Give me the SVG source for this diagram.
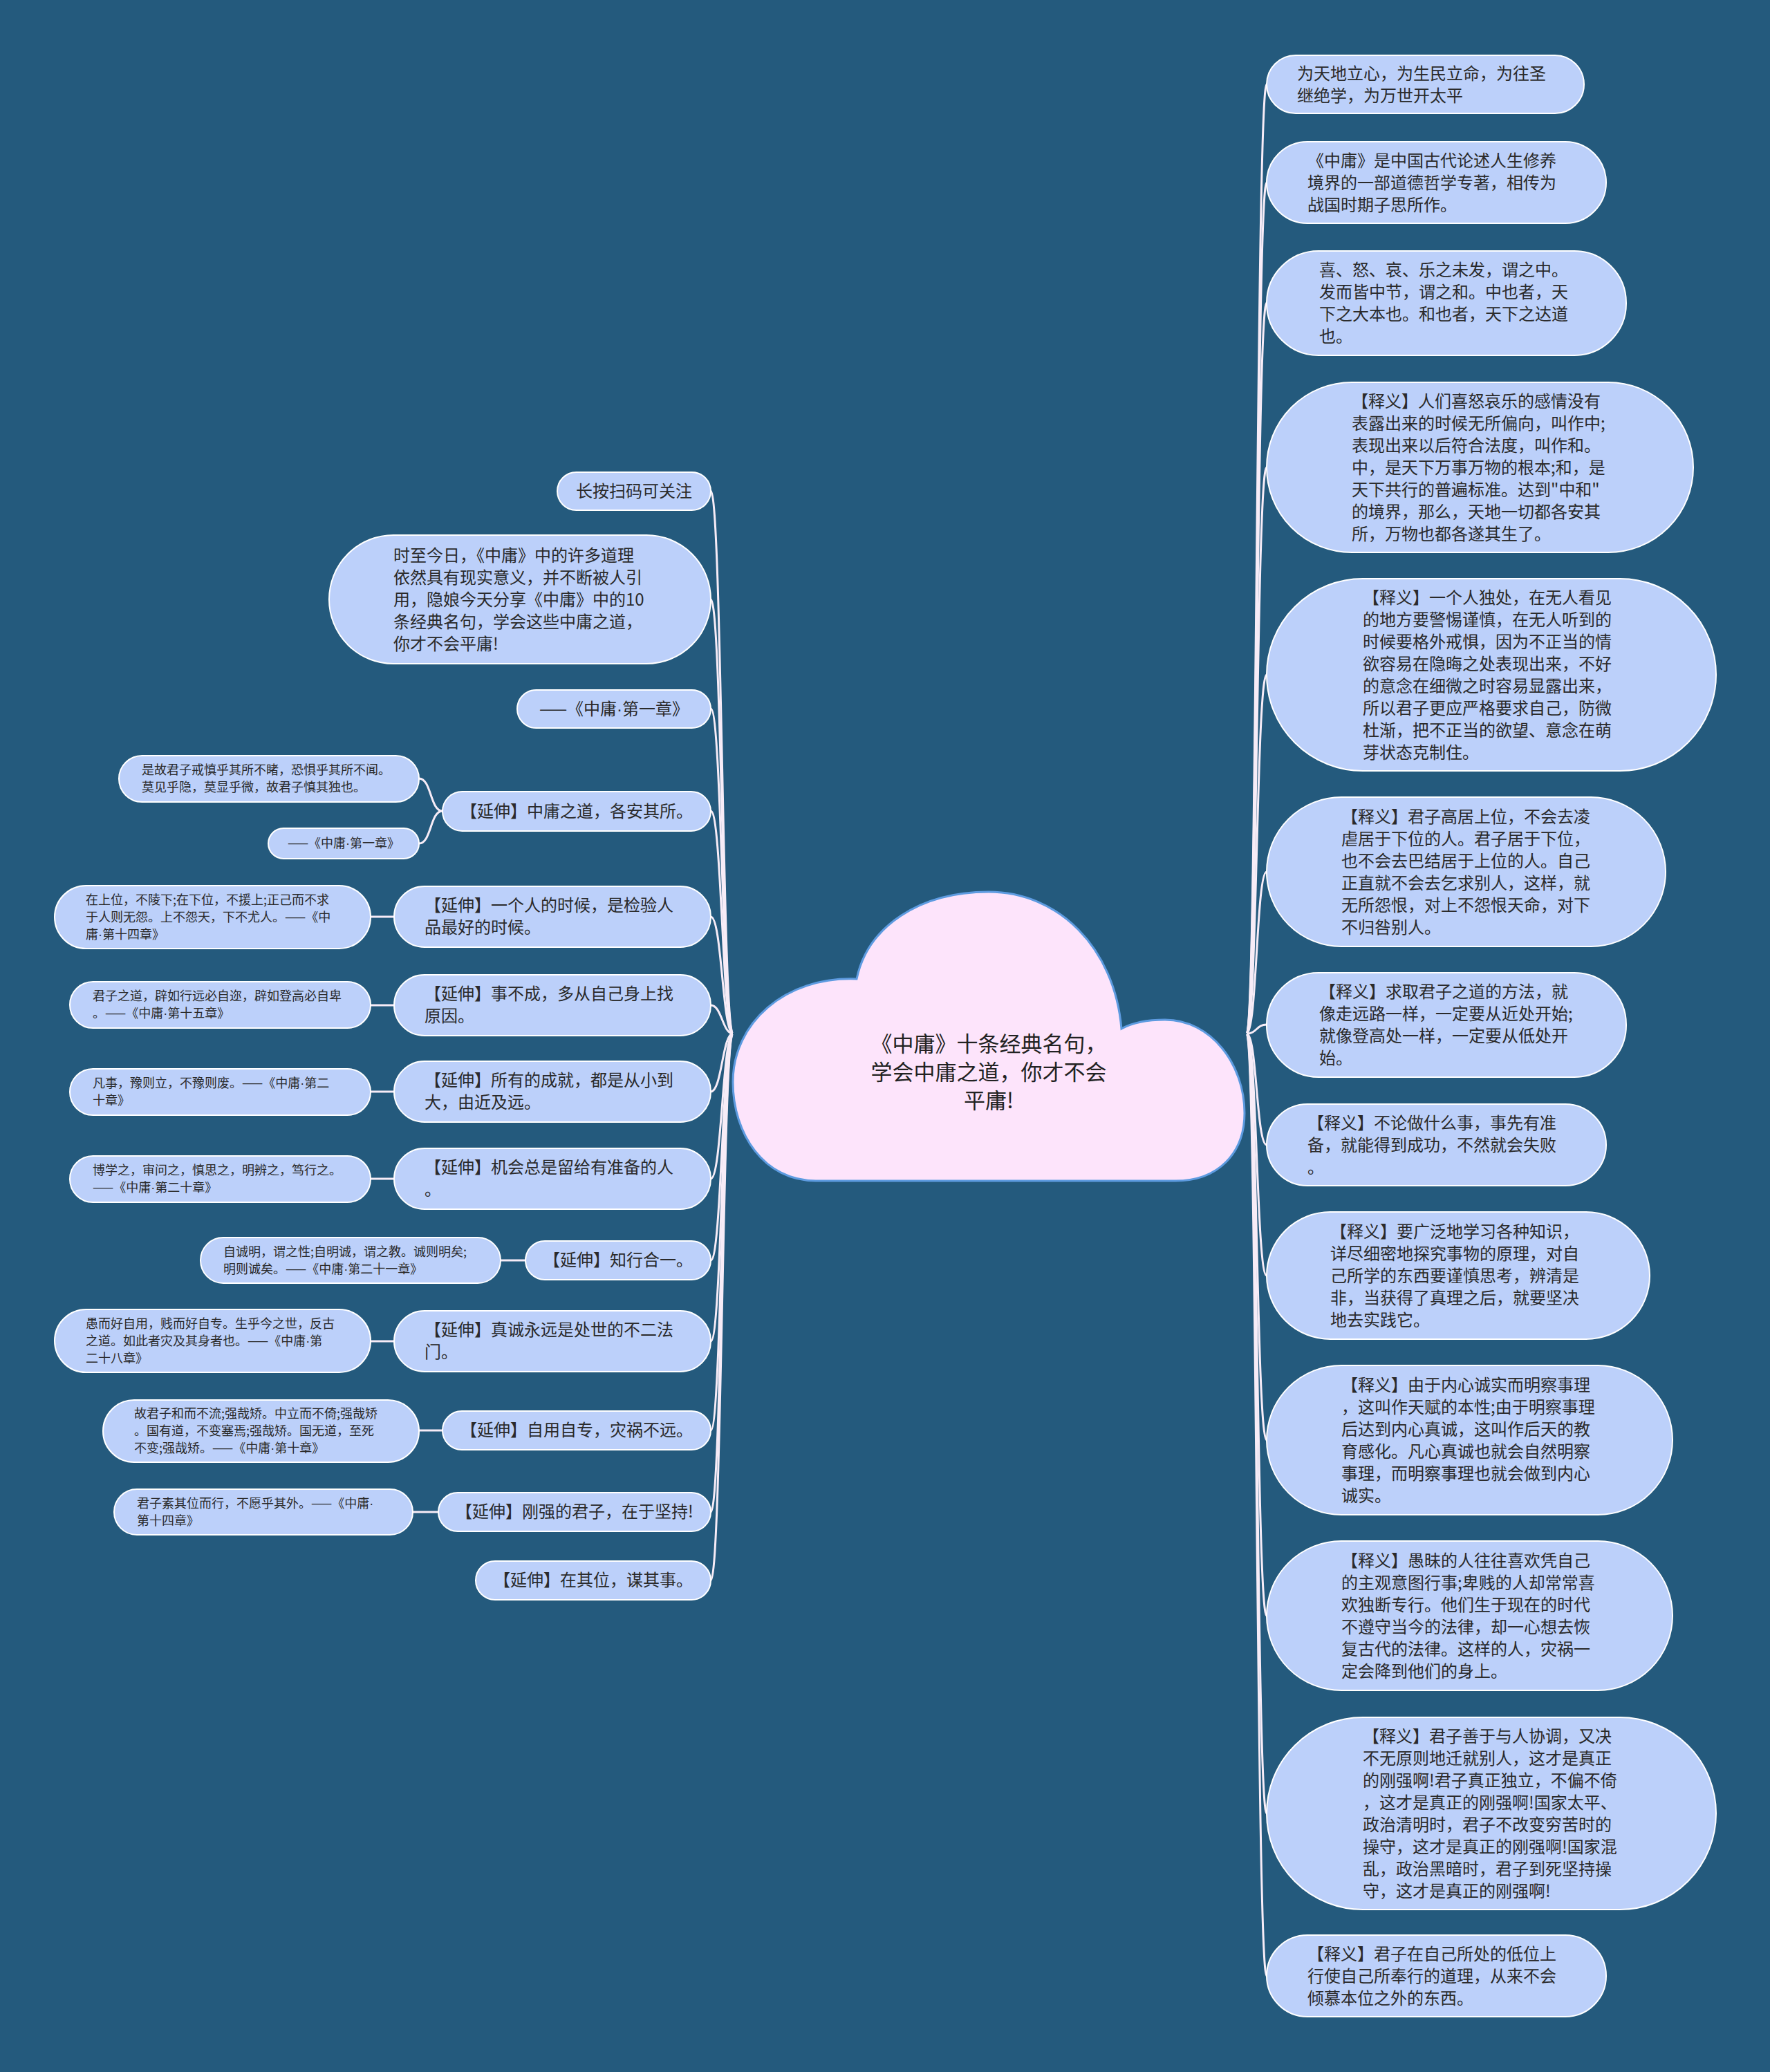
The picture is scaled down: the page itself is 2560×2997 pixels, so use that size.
<svg xmlns="http://www.w3.org/2000/svg" width="2560" height="2997" viewBox="0 0 2560 2997">
<style>
.bg{fill:#245a7d}
.n{fill:#bcd0fa;stroke:#ffffff;stroke-width:2}
.t{font-family:"Noto Sans CJK SC","Noto Sans",sans-serif;font-size:24px;fill:#2a2a2a}
.s{font-family:"Noto Sans CJK SC","Noto Sans",sans-serif;font-size:18px;fill:#2a2a2a}
.d{font-family:"Liberation Sans",sans-serif}
.c{fill:none;stroke:#f7ecf7;stroke-width:3}
.m{text-anchor:middle}
.cloud{fill:#fde4fb;stroke:#5d9be0;stroke-width:3}
.ct{font-family:"Noto Sans CJK SC","Noto Sans",sans-serif;font-size:31px;fill:#222;text-anchor:middle}
</style>
<rect class="bg" x="0" y="0" width="2560" height="2997"/>
<g id="connectors">
<path class="c" d="M1803 1495 C1818 1495 1817 122 1832 122"/>
<path class="c" d="M1803 1495 C1818 1495 1817 264 1832 264"/>
<path class="c" d="M1803 1495 C1818 1495 1817 438 1832 438"/>
<path class="c" d="M1803 1495 C1818 1495 1817 676 1832 676"/>
<path class="c" d="M1803 1495 C1818 1495 1817 976 1832 976"/>
<path class="c" d="M1803 1495 C1818 1495 1817 1261 1832 1261"/>
<path class="c" d="M1803 1495 C1818 1495 1817 1482 1832 1482"/>
<path class="c" d="M1803 1495 C1818 1495 1817 1656 1832 1656"/>
<path class="c" d="M1803 1495 C1818 1495 1817 1845 1832 1845"/>
<path class="c" d="M1803 1495 C1818 1495 1817 2083 1832 2083"/>
<path class="c" d="M1803 1495 C1818 1495 1817 2337 1832 2337"/>
<path class="c" d="M1803 1495 C1818 1495 1817 2623 1832 2623"/>
<path class="c" d="M1803 1495 C1818 1495 1817 2858 1832 2858"/>
<path class="c" d="M1060 1495 C1045 1495 1044 710 1028 710"/>
<path class="c" d="M1060 1495 C1045 1495 1044 867 1028 867"/>
<path class="c" d="M1060 1495 C1045 1495 1044 1025 1028 1025"/>
<path class="c" d="M1060 1495 C1045 1495 1044 1173 1028 1173"/>
<path class="c" d="M1060 1495 C1045 1495 1044 1326 1028 1326"/>
<path class="c" d="M1060 1495 C1045 1495 1044 1454 1028 1454"/>
<path class="c" d="M1060 1495 C1045 1495 1044 1579 1028 1579"/>
<path class="c" d="M1060 1495 C1045 1495 1044 1705 1028 1705"/>
<path class="c" d="M1060 1495 C1045 1495 1044 1823 1028 1823"/>
<path class="c" d="M1060 1495 C1045 1495 1044 1940 1028 1940"/>
<path class="c" d="M1060 1495 C1045 1495 1044 2069 1028 2069"/>
<path class="c" d="M1060 1495 C1045 1495 1044 2187 1028 2187"/>
<path class="c" d="M1060 1495 C1045 1495 1044 2286 1028 2286"/>
<path class="c" d="M640 1173 C622 1173 624 1126 606 1126"/>
<path class="c" d="M640 1173 C622 1173 624 1220 606 1220"/>
<path class="c" d="M570 1326 L536 1326"/>
<path class="c" d="M570 1454 L536 1454"/>
<path class="c" d="M570 1579 L536 1579"/>
<path class="c" d="M570 1705 L536 1705"/>
<path class="c" d="M760 1823 L724 1823"/>
<path class="c" d="M570 1940 L536 1940"/>
<path class="c" d="M640 2069 L606 2069"/>
<path class="c" d="M634 2187 L597 2187"/>
</g>
<g id="center">
<path class="cloud" d="M1180 1708 C1105 1708 1060 1640 1060 1565 C1060 1480 1135 1412 1239 1416 C1255 1340 1330 1290 1430 1290 C1530 1290 1612 1370 1622 1488 C1640 1478 1660 1475 1685 1475 C1752 1475 1800 1540 1800 1610 C1800 1668 1762 1708 1700 1708 Z"/>
<text class="ct"><tspan x="1430" y="1521">《中庸》十条经典名句，</tspan><tspan x="1430" y="1562">学会中庸之道，你才不会</tspan><tspan x="1430" y="1603">平庸!</tspan></text>
</g>
<g id="r1"><rect class="n" x="1832" y="80" width="459" height="84" rx="42"/><text class="t"><tspan x="1876" y="115">为天地立心，为生民立命，为往圣</tspan><tspan x="1876" y="147">继绝学，为万世开太平</tspan></text></g>
<g id="r2"><rect class="n" x="1832" y="205" width="491" height="118" rx="59"/><text class="t"><tspan x="1891" y="241">《中庸》是中国古代论述人生修养</tspan><tspan x="1891" y="273">境界的一部道德哲学专著，相传为</tspan><tspan x="1891" y="305">战国时期子思所作。</tspan></text></g>
<g id="r3"><rect class="n" x="1832" y="363" width="520" height="151" rx="75"/><text class="t"><tspan x="1908" y="399">喜、怒、哀、乐之未发，谓之中。</tspan><tspan x="1908" y="431">发而皆中节，谓之和。中也者，天</tspan><tspan x="1908" y="463">下之大本也。和也者，天下之达道</tspan><tspan x="1908" y="495">也。</tspan></text></g>
<g id="r4"><rect class="n" x="1832" y="553" width="617" height="246" rx="123"/><text class="t"><tspan x="1955" y="589">【释义】人们喜怒哀乐的感情没有</tspan><tspan x="1955" y="621">表露出来的时候无所偏向，叫作中;</tspan><tspan x="1955" y="653">表现出来以后符合法度，叫作和。</tspan><tspan x="1955" y="685">中，是天下万事万物的根本;和，是</tspan><tspan x="1955" y="717">天下共行的普遍标准。达到"中和"</tspan><tspan x="1955" y="749">的境界，那么，天地一切都各安其</tspan><tspan x="1955" y="781">所，万物也都各遂其生了。</tspan></text></g>
<g id="r5"><rect class="n" x="1832" y="837" width="650" height="278" rx="139"/><text class="t"><tspan x="1971" y="873">【释义】一个人独处，在无人看见</tspan><tspan x="1971" y="905">的地方要警惕谨慎，在无人听到的</tspan><tspan x="1971" y="937">时候要格外戒惧，因为不正当的情</tspan><tspan x="1971" y="969">欲容易在隐晦之处表现出来，不好</tspan><tspan x="1971" y="1001">的意念在细微之时容易显露出来，</tspan><tspan x="1971" y="1033">所以君子更应严格要求自己，防微</tspan><tspan x="1971" y="1065">杜渐，把不正当的欲望、意念在萌</tspan><tspan x="1971" y="1097">芽状态克制住。</tspan></text></g>
<g id="r6"><rect class="n" x="1832" y="1153" width="577" height="216" rx="108"/><text class="t"><tspan x="1940" y="1190">【释义】君子高居上位，不会去凌</tspan><tspan x="1940" y="1222">虐居于下位的人。君子居于下位，</tspan><tspan x="1940" y="1254">也不会去巴结居于上位的人。自己</tspan><tspan x="1940" y="1286">正直就不会去乞求别人，这样，就</tspan><tspan x="1940" y="1318">无所怨恨，对上不怨恨天命，对下</tspan><tspan x="1940" y="1350">不归咎别人。</tspan></text></g>
<g id="r7"><rect class="n" x="1832" y="1407" width="520" height="151" rx="75"/><text class="t"><tspan x="1908" y="1443">【释义】求取君子之道的方法，就</tspan><tspan x="1908" y="1475">像走远路一样，一定要从近处开始;</tspan><tspan x="1908" y="1507">就像登高处一样，一定要从低处开</tspan><tspan x="1908" y="1539">始。</tspan></text></g>
<g id="r8"><rect class="n" x="1832" y="1597" width="491" height="118" rx="59"/><text class="t"><tspan x="1891" y="1633">【释义】不论做什么事，事先有准</tspan><tspan x="1891" y="1665">备，就能得到成功，不然就会失败</tspan><tspan x="1891" y="1697">。</tspan></text></g>
<g id="r9"><rect class="n" x="1832" y="1753" width="554" height="184" rx="92"/><text class="t"><tspan x="1924" y="1790">【释义】要广泛地学习各种知识，</tspan><tspan x="1924" y="1822">详尽细密地探究事物的原理，对自</tspan><tspan x="1924" y="1854">己所学的东西要谨慎思考，辨清是</tspan><tspan x="1924" y="1886">非，当获得了真理之后，就要坚决</tspan><tspan x="1924" y="1918">地去实践它。</tspan></text></g>
<g id="r10"><rect class="n" x="1832" y="1975" width="587" height="216" rx="108"/><text class="t"><tspan x="1940" y="2012">【释义】由于内心诚实而明察事理</tspan><tspan x="1940" y="2044">，这叫作天赋的本性;由于明察事理</tspan><tspan x="1940" y="2076">后达到内心真诚，这叫作后天的教</tspan><tspan x="1940" y="2108">育感化。凡心真诚也就会自然明察</tspan><tspan x="1940" y="2140">事理，而明察事理也就会做到内心</tspan><tspan x="1940" y="2172">诚实。</tspan></text></g>
<g id="r11"><rect class="n" x="1832" y="2229" width="587" height="216" rx="108"/><text class="t"><tspan x="1940" y="2266">【释义】愚昧的人往往喜欢凭自己</tspan><tspan x="1940" y="2298">的主观意图行事;卑贱的人却常常喜</tspan><tspan x="1940" y="2330">欢独断专行。他们生于现在的时代</tspan><tspan x="1940" y="2362">不遵守当今的法律，却一心想去恢</tspan><tspan x="1940" y="2394">复古代的法律。这样的人，灾祸一</tspan><tspan x="1940" y="2426">定会降到他们的身上。</tspan></text></g>
<g id="r12"><rect class="n" x="1832" y="2484" width="650" height="278" rx="139"/><text class="t"><tspan x="1971" y="2520">【释义】君子善于与人协调，又决</tspan><tspan x="1971" y="2552">不无原则地迁就别人，这才是真正</tspan><tspan x="1971" y="2584">的刚强啊!君子真正独立，不偏不倚</tspan><tspan x="1971" y="2616">，这才是真正的刚强啊!国家太平、</tspan><tspan x="1971" y="2648">政治清明时，君子不改变穷苦时的</tspan><tspan x="1971" y="2680">操守，这才是真正的刚强啊!国家混</tspan><tspan x="1971" y="2712">乱，政治黑暗时，君子到死坚持操</tspan><tspan x="1971" y="2744">守，这才是真正的刚强啊!</tspan></text></g>
<g id="r13"><rect class="n" x="1832" y="2799" width="491" height="118" rx="59"/><text class="t"><tspan x="1891" y="2835">【释义】君子在自己所处的低位上</tspan><tspan x="1891" y="2867">行使自己所奉行的道理，从来不会</tspan><tspan x="1891" y="2899">倾慕本位之外的东西。</tspan></text></g>
<g id="l1"><rect class="n" x="806" y="683" width="222" height="55" rx="27.5"/><text class="t m" x="917" y="719">长按扫码可关注</text></g>
<g id="l2"><rect class="n" x="476" y="774" width="552" height="186" rx="93"/><text class="t"><tspan x="569" y="812">时至今日，《中庸》中的许多道理</tspan><tspan x="569" y="844">依然具有现实意义，并不断被人引</tspan><tspan x="569" y="876">用，隐娘今天分享《中庸》中的10</tspan><tspan x="569" y="908">条经典名句，学会这些中庸之道，</tspan><tspan x="569" y="940">你才不会平庸!</tspan></text></g>
<g id="l3"><rect class="n" x="748" y="998" width="280" height="55" rx="27.5"/><text class="t m" x="888" y="1034">——《中庸<tspan class="d">·</tspan>第一章》</text></g>
<g id="l4"><rect class="n" x="640" y="1145" width="388" height="57" rx="28.5"/><text class="t m" x="834" y="1182">【延伸】中庸之道，各安其所。</text></g>
<g id="l4a"><rect class="n" x="172" y="1093" width="434" height="67" rx="33.5"/><text class="s"><tspan x="205" y="1120">是故君子戒慎乎其所不睹，恐惧乎其所不闻。</tspan><tspan x="205" y="1145">莫见乎隐，莫显乎微，故君子慎其独也。</tspan></text></g>
<g id="l4b"><rect class="n" x="388" y="1198" width="218" height="44" rx="22"/><text class="s m" x="497" y="1226">——《中庸<tspan class="d">·</tspan>第一章》</text></g>
<g id="l5"><rect class="n" x="570" y="1282" width="458" height="88" rx="44"/><text class="t"><tspan x="614" y="1318">【延伸】一个人的时候，是检验人</tspan><tspan x="614" y="1350">品最好的时候。</tspan></text></g>
<g id="l5a"><rect class="n" x="79" y="1281" width="457" height="91" rx="45.5"/><text class="s"><tspan x="124" y="1308">在上位，不陵下;在下位，不援上;正己而不求</tspan><tspan x="124" y="1333">于人则无怨。上不怨天，下不尤人。——《中</tspan><tspan x="124" y="1358">庸<tspan class="d">·</tspan>第十四章》</tspan></text></g>
<g id="l6"><rect class="n" x="570" y="1410" width="458" height="88" rx="44"/><text class="t"><tspan x="614" y="1446">【延伸】事不成，多从自己身上找</tspan><tspan x="614" y="1478">原因。</tspan></text></g>
<g id="l6a"><rect class="n" x="101" y="1420" width="435" height="67" rx="33.5"/><text class="s"><tspan x="134" y="1447">君子之道，辟如行远必自迩，辟如登高必自卑</tspan><tspan x="134" y="1472">。——《中庸<tspan class="d">·</tspan>第十五章》</tspan></text></g>
<g id="l7"><rect class="n" x="570" y="1535" width="458" height="88" rx="44"/><text class="t"><tspan x="614" y="1571">【延伸】所有的成就，都是从小到</tspan><tspan x="614" y="1603">大，由近及远。</tspan></text></g>
<g id="l7a"><rect class="n" x="101" y="1546" width="435" height="67" rx="33.5"/><text class="s"><tspan x="134" y="1573">凡事，豫则立，不豫则废。——《中庸<tspan class="d">·</tspan>第二</tspan><tspan x="134" y="1598">十章》</tspan></text></g>
<g id="l8"><rect class="n" x="570" y="1661" width="458" height="88" rx="44"/><text class="t"><tspan x="614" y="1697">【延伸】机会总是留给有准备的人</tspan><tspan x="614" y="1729">。</tspan></text></g>
<g id="l8a"><rect class="n" x="101" y="1672" width="435" height="67" rx="33.5"/><text class="s"><tspan x="134" y="1699">博学之，审问之，慎思之，明辨之，笃行之。</tspan><tspan x="134" y="1724">——《中庸<tspan class="d">·</tspan>第二十章》</tspan></text></g>
<g id="l9"><rect class="n" x="760" y="1795" width="268" height="56" rx="28"/><text class="t m" x="894" y="1831">【延伸】知行合一。</text></g>
<g id="l9a"><rect class="n" x="290" y="1790" width="434" height="66" rx="33"/><text class="s"><tspan x="323" y="1817">自诚明，谓之性;自明诚，谓之教。诚则明矣;</tspan><tspan x="323" y="1842">明则诚矣。——《中庸<tspan class="d">·</tspan>第二十一章》</tspan></text></g>
<g id="l10"><rect class="n" x="570" y="1896" width="458" height="88" rx="44"/><text class="t"><tspan x="614" y="1932">【延伸】真诚永远是处世的不二法</tspan><tspan x="614" y="1964">门。</tspan></text></g>
<g id="l10a"><rect class="n" x="79" y="1894" width="457" height="91" rx="45.5"/><text class="s"><tspan x="124" y="1921">愚而好自用，贱而好自专。生乎今之世，反古</tspan><tspan x="124" y="1946">之道。如此者灾及其身者也。——《中庸<tspan class="d">·</tspan>第</tspan><tspan x="124" y="1971">二十八章》</tspan></text></g>
<g id="l11"><rect class="n" x="640" y="2041" width="388" height="56" rx="28"/><text class="t m" x="834" y="2077">【延伸】自用自专，灾祸不远。</text></g>
<g id="l11a"><rect class="n" x="149" y="2025" width="457" height="90" rx="45"/><text class="s"><tspan x="194" y="2051">故君子和而不流;强哉矫。中立而不倚;强哉矫</tspan><tspan x="194" y="2076">。国有道，不变塞焉;强哉矫。国无道，至死</tspan><tspan x="194" y="2101">不变;强哉矫。——《中庸<tspan class="d">·</tspan>第十章》</tspan></text></g>
<g id="l12"><rect class="n" x="634" y="2159" width="394" height="56" rx="28"/><text class="t m" x="831" y="2195">【延伸】刚强的君子，在于坚持!</text></g>
<g id="l12a"><rect class="n" x="165" y="2154" width="432" height="66" rx="33"/><text class="s"><tspan x="198" y="2181">君子素其位而行，不愿乎其外。——《中庸<tspan class="d">·</tspan></tspan><tspan x="198" y="2206">第十四章》</tspan></text></g>
<g id="l13"><rect class="n" x="688" y="2258" width="340" height="56" rx="28"/><text class="t m" x="858" y="2294">【延伸】在其位，谋其事。</text></g>
</svg>
